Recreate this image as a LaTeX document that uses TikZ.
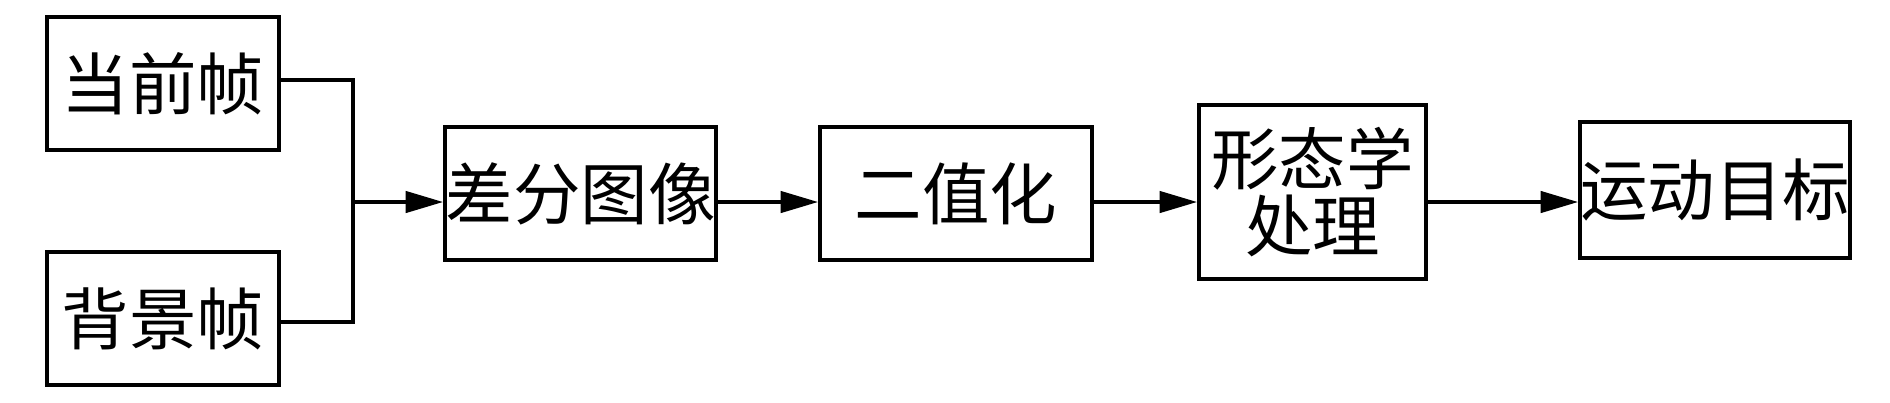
\documentclass[tikz,border=0pt]{standalone}
\usepackage{fontspec}
\newfontfamily\cjk{Noto Sans CJK SC}
\usetikzlibrary{arrows.meta}
\begin{document}
\begin{tikzpicture}[x=0.4pt,y=-0.4pt,
  box/.style={draw,line width=1.5pt,inner sep=0pt,align=center,
    font=\cjk\fontsize{27}{27}\selectfont},
  conn/.style={line width=1.5pt},
  arr/.style={line width=1.5pt,-{Triangle[length=15pt,width=8.5pt]}}]
\useasboundingbox (0,0) rectangle (1890,402);
\node[box,minimum width=92.8pt,minimum height=53.2pt] (cur) at (163,83.5) {当前帧};
\node[box,minimum width=92.8pt,minimum height=53.2pt] (bg) at (163,318.5) {背景帧};
\node[box,minimum width=108.4pt,minimum height=53.2pt] (diff) at (580.5,193.5) {差分图像};
\node[box,minimum width=108.8pt,minimum height=53.2pt] (bin) at (956,193.5) {二值化};
\node[box,minimum width=90.8pt,minimum height=69.6pt] (morph) at (1312.5,192) {形态学\\处理};
\node[box,minimum width=108pt,minimum height=54.4pt] (move) at (1715,190) {运动目标};
\coordinate (c1) at (353,80);
\coordinate (c2) at (353,322);
\coordinate (jm) at (353,202);
\draw[conn] (cur.east |- c1) -- (c1) -- (c2) -- (bg.east |- c2);
\draw[arr] (jm) -- (diff.west |- jm);
\draw[arr] (diff.east |- jm) -- (bin.west |- jm);
\draw[arr] (bin.east |- jm) -- (morph.west |- jm);
\draw[arr] (morph.east |- jm) -- (move.west |- jm);
\end{tikzpicture}
\end{document}
